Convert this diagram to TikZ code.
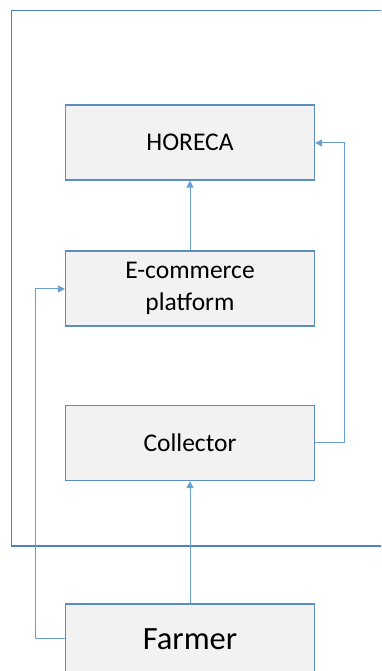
\documentclass[tikz,border=0pt]{standalone}
\usepackage{fontspec}
\setmainfont{Carlito}
\usetikzlibrary{arrows.meta}
\definecolor{boxline}{HTML}{5B8DC0}
\definecolor{boxfill}{HTML}{F2F2F2}
\definecolor{conn}{HTML}{6A9FD6}
\definecolor{outer}{HTML}{4F81BD}
\begin{document}
\begin{tikzpicture}[x=1pt,y=1pt,
  box/.style={draw=boxline,line width=1.2pt,fill=boxfill,minimum width=249pt,minimum height=75pt,align=center,inner sep=0pt,font=\fontsize{25.5}{32}\selectfont},
  link/.style={draw=conn,line width=1pt,-{Triangle[length=7pt,width=7pt]}}]
\useasboundingbox (0,0) rectangle (381,671);
\clip (0,0) rectangle (381,671);
\fill[white] (0,0) rectangle (381,671);
\draw[outer,line width=1.1pt] (11.5,660.5) rectangle (420,125);
\node[box] (horeca) at (190,528.5) {HORECA};
\node[box] (ecom) at (190,382.5) {E-commerce\\platform};
\node[box] (coll) at (190,228) {Collector};
\node[box,minimum height=70pt,font=\fontsize{32.5}{38}\selectfont] (farmer) at (190,32) {Farmer};
\coordinate (r1) at (344.5,228);
\coordinate (r2) at (344.5,528);
\coordinate (l1) at (35.5,32);
\coordinate (l2) at (35.5,382);
\draw[link] (ecom.north) -- (horeca.south);
\draw[link] (farmer.north) -- (coll.south);
\draw[link] (coll.east) -- (r1) -- (r2) -- (horeca.east |- r2);
\draw[link] (farmer.west) -- (l1) -- (l2) -- (ecom.west |- l2);
\end{tikzpicture}
\end{document}
